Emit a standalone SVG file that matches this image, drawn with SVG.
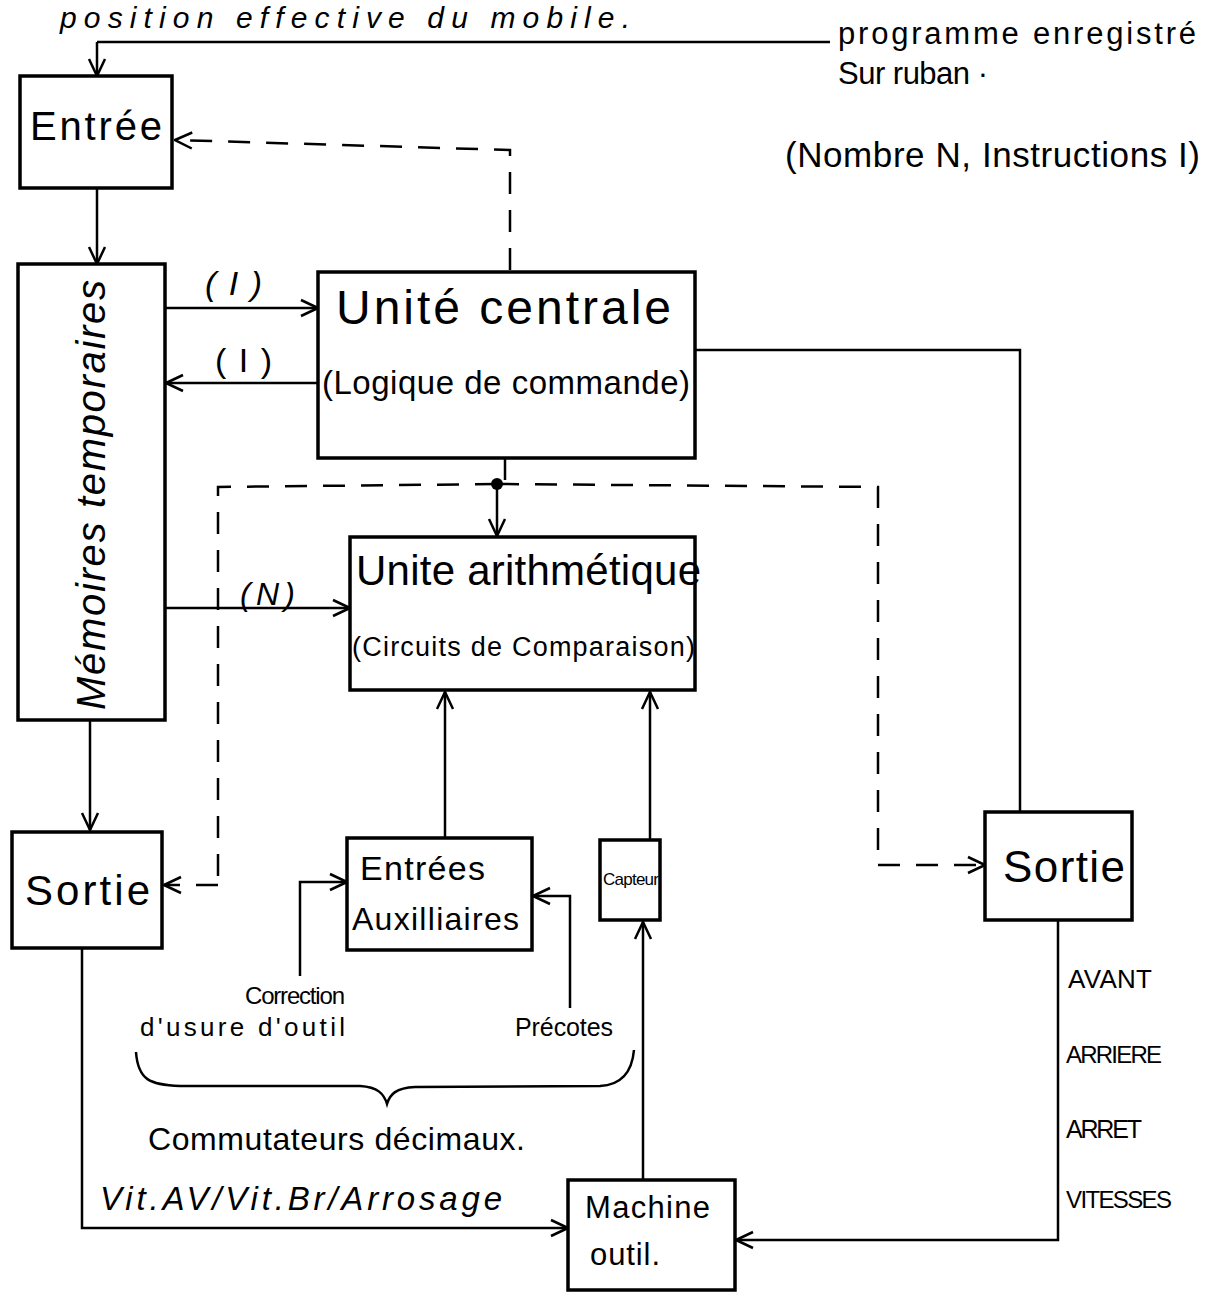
<svg xmlns="http://www.w3.org/2000/svg" width="1227" height="1296" viewBox="0 0 1227 1296">
<defs>
<marker id="ah" viewBox="0 0 20 20" refX="19" refY="10" markerWidth="20" markerHeight="20" markerUnits="userSpaceOnUse" orient="auto">
<path d="M2,2 L19,10 L2,18" fill="none" stroke="#000" stroke-width="2.5"/>
</marker>
</defs>
<style>
.box{fill:#fff;stroke:#000;stroke-width:3.5}
.ln{fill:none;stroke:#000;stroke-width:2.5}
.ar{fill:none;stroke:#000;stroke-width:2.5;marker-end:url(#ah)}
.da{fill:none;stroke:#000;stroke-width:2.5;stroke-dasharray:22 16}
.dam{fill:none;stroke:#000;stroke-width:2.5;stroke-dasharray:22 16;marker-end:url(#ah)}
text{font-family:"Liberation Sans","DejaVu Sans",sans-serif;fill:#000}
.it{font-style:italic}
</style>
<rect width="1227" height="1296" fill="#fff"/>
<text x="60" y="28" font-size="30" class="it" textLength="570">position effective du mobile.</text>
<g id="connectors">
<path class="ln" d="M830,42 L97,42"/>
<path class="ar" d="M97,42 L97,76"/>
<path class="dam" d="M510,270 L510,150 L175,140"/>
<path class="ar" d="M97,188 L97,264"/>
<path class="ar" d="M165,308 L318,308"/>
<path class="ar" d="M318,383 L166,383"/>
<path class="ar" d="M695,350 L1020,350 L1020,862"/>
<path class="da" d="M505,458 L505,482"/>
<circle cx="497" cy="484" r="6" fill="#000"/>
<path class="ar" d="M497,484 L497,536"/>
<path class="da" d="M497,484 L218,487 L218,885"/>
<path class="dam" d="M218,885 L164,885"/>
<path class="da" d="M497,484 L878,487 L878,865"/>
<path class="dam" d="M878,865 L985,865"/>
<path class="ar" d="M165,608 L350,608"/>
<path class="ar" d="M90,720 L90,830"/>
<path class="ar" d="M82,948 L82,1228 L568,1228"/>
<path class="ar" d="M445,838 L445,692"/>
<path class="ar" d="M650,840 L650,692"/>
<path class="ar" d="M300,976 L300,882 L347,882"/>
<path class="ar" d="M570,1008 L570,896 L533,896"/>
<path class="ar" d="M643,1180 L643,922"/>
<path class="ar" d="M1058,920 L1058,1240 L736,1240"/>
<path class="ln" d="M136,1052 C138,1080 150,1085 180,1086 L360,1086 C378,1087 384,1094 387,1104 C390,1094 396,1088 415,1087 L600,1086 C622,1085 632,1072 634,1050"/>
</g>
<g id="entree"><rect class="box" x="20" y="76" width="152" height="112"/><text x="30" y="140" font-size="40" textLength="132">Entrée</text></g>
<g id="memoires"><rect class="box" x="18" y="264" width="147" height="456"/><text transform="translate(105,710) rotate(-90)" font-size="40" class="it" textLength="430">Mémoires temporaires</text></g>
<g id="unite-centrale"><rect class="box" x="318" y="272" width="377" height="186"/><text x="336" y="324" font-size="48" textLength="335">Unité centrale</text><text x="322" y="394" font-size="33" textLength="368">(Logique de commande)</text></g>
<g id="unite-arith"><rect class="box" x="350" y="537" width="345" height="153"/><text x="356" y="585" font-size="42" textLength="345">Unite arithmétique</text><text x="352" y="656" font-size="27" textLength="343">(Circuits de Comparaison)</text></g>
<g id="sortie-g"><rect class="box" x="12" y="832" width="150" height="116"/><text x="25" y="905" font-size="42" textLength="125">Sortie</text></g>
<g id="entrees-aux"><rect class="box" x="347" y="838" width="185" height="112"/><text x="360" y="880" font-size="34" textLength="125">Entrées</text><text x="352" y="930" font-size="32" textLength="167">Auxilliaires</text></g>
<g id="capteur"><rect class="box" x="600" y="840" width="60" height="80"/><text x="603" y="885" font-size="17" textLength="56">Capteur</text></g>
<g id="sortie-d"><rect class="box" x="985" y="812" width="147" height="108"/><text x="1003" y="882" font-size="44" textLength="122">Sortie</text></g>
<g id="machine"><rect class="box" x="568" y="1180" width="167" height="110"/><text x="585" y="1218" font-size="31" textLength="125">Machine</text><text x="590" y="1265" font-size="31" textLength="70">outil.</text></g>
<g id="labels">
<text x="838" y="44" font-size="31" textLength="358">programme enregistré</text>
<text x="838" y="84" font-size="31" textLength="150">Sur ruban ·</text>
<text x="785" y="167" font-size="35" textLength="415">(Nombre N, Instructions I)</text>
<text x="205" y="295" font-size="34" class="it" textLength="57">(I)</text>
<text x="215" y="372" font-size="34" textLength="57">(I)</text>
<text x="240" y="605" font-size="32" class="it" textLength="55">(N)</text>
<text x="245" y="1004" font-size="24" textLength="100">Correction</text>
<text x="140" y="1036" font-size="26" textLength="205">d'usure d'outil</text>
<text x="515" y="1036" font-size="25" textLength="98">Précotes</text>
<text x="148" y="1150" font-size="32" textLength="377">Commutateurs décimaux.</text>
<text x="100" y="1210" font-size="33" class="it" textLength="402">Vit.AV/Vit.Br/Arrosage</text>
<text x="1068" y="988" font-size="26" textLength="84">AVANT</text>
<text x="1066" y="1063" font-size="24" textLength="96">ARRIERE</text>
<text x="1066" y="1138" font-size="25" textLength="76">ARRET</text>
<text x="1066" y="1208" font-size="24" textLength="106">VITESSES</text>
</g>
</svg>
